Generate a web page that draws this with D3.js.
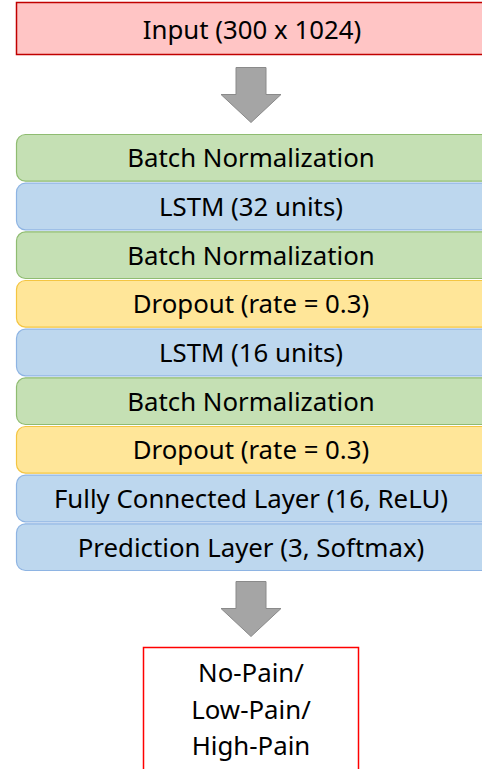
<!DOCTYPE html>
<html>
<head>
<meta charset="utf-8">
<script src="https://cdn.jsdelivr.net/npm/d3@7"></script>
<style>
  html, body { margin: 0; padding: 0; background: #fff; overflow: hidden; }
  text { font-family: "Noto Sans", "Open Sans", sans-serif; fill: #000; }
</style>
</head>
<body>
<div id="app"></div>
<script>
// layer stack, top to bottom
const INPUT_LABEL = 'Input (300 x 1024)';
const LAYERS = [
  'Batch Normalization',
  'LSTM (32 units)',
  'Batch Normalization',
  'Dropout (rate = 0.3)',
  'LSTM (16 units)',
  'Batch Normalization',
  'Dropout (rate = 0.3)',
  'Fully Connected Layer (16, ReLU)',
  'Prediction Layer (3, Softmax)',
];
const LAYER_KINDS = ['norm', 'lstm', 'norm', 'drop', 'lstm', 'norm', 'drop', 'dense', 'dense'];
const OUTPUT_LINES = ['No-Pain/', 'Low-Pain/', 'High-Pain'];

const KINDS = ['norm', 'lstm', 'drop', 'dense'];
const FILLS = ['#c5e0b4', '#bdd7ee', '#ffe699', '#bdd7ee'];
const STROKES = ['#8fbc71', '#8eb4e3', '#f4c542', '#8eb4e3'];

const width = 482;
const height = 769;
const cx = 251;
const fontSize = 25.8;

const fillScale = d3.scaleOrdinal().domain(KINDS).range(FILLS);
const strokeScale = d3.scaleOrdinal().domain(KINDS).range(STROKES);

const y = d3.scaleBand()
  .domain(d3.range(LAYERS.length))
  .range([134, 571])
  .paddingInner(0.02);

const svg = d3.select('#app')
  .append('svg')
  .attr('width', width)
  .attr('height', height);

// input box
svg.append('rect')
  .attr('x', 16.5).attr('y', 2.5)
  .attr('width', 480).attr('height', 52)
  .attr('fill', '#ffc5c5')
  .attr('stroke', '#c00000')
  .attr('stroke-width', 1.5);

svg.append('text')
  .attr('x', cx + 1).attr('y', 39)
  .attr('text-anchor', 'middle')
  .attr('font-size', fontSize)
  .text(INPUT_LABEL);

// block arrow pointing down, top at y0
const arrow = (y0) => {
  const pts = [
    [cx - 15, y0], [cx + 15, y0], [cx + 15, y0 + 27], [cx + 30, y0 + 27],
    [cx, y0 + 55], [cx - 30, y0 + 27], [cx - 15, y0 + 27],
  ];
  svg.append('path')
    .attr('d', d3.line()(pts) + 'Z')
    .attr('fill', '#a5a5a5')
    .attr('stroke', '#8a8a8a')
    .attr('stroke-width', 1);
};

arrow(67.5);

const layer = svg.selectAll('g.layer')
  .data(LAYERS)
  .enter()
  .append('g')
  .attr('class', 'layer')
  .attr('transform', (d, i) => `translate(0,${y(i)})`);

layer.append('rect')
  .attr('x', 16.5).attr('y', 0.5)
  .attr('width', 480)
  .attr('height', y.bandwidth() - 1)
  .attr('rx', 9)
  .attr('fill', (d, i) => fillScale(LAYER_KINDS[i]))
  .attr('stroke', (d, i) => strokeScale(LAYER_KINDS[i]))
  .attr('stroke-width', 1.2);

layer.append('text')
  .attr('x', cx)
  .attr('y', y.bandwidth() / 2 + 9.5)
  .attr('text-anchor', 'middle')
  .attr('font-size', fontSize)
  .text((d) => d);

arrow(581.5);

// output box
svg.append('rect')
  .attr('x', 143.5).attr('y', 647.5)
  .attr('width', 215).attr('height', 140)
  .attr('fill', '#fff')
  .attr('stroke', '#ff0000')
  .attr('stroke-width', 1.5);

svg.selectAll('text.out')
  .data(OUTPUT_LINES)
  .enter()
  .append('text')
  .attr('class', 'out')
  .attr('x', 251)
  .attr('y', (d, i) => 682 + i * 36.5)
  .attr('text-anchor', 'middle')
  .attr('font-size', fontSize)
  .text((d) => d);
</script>
</body>
</html>
